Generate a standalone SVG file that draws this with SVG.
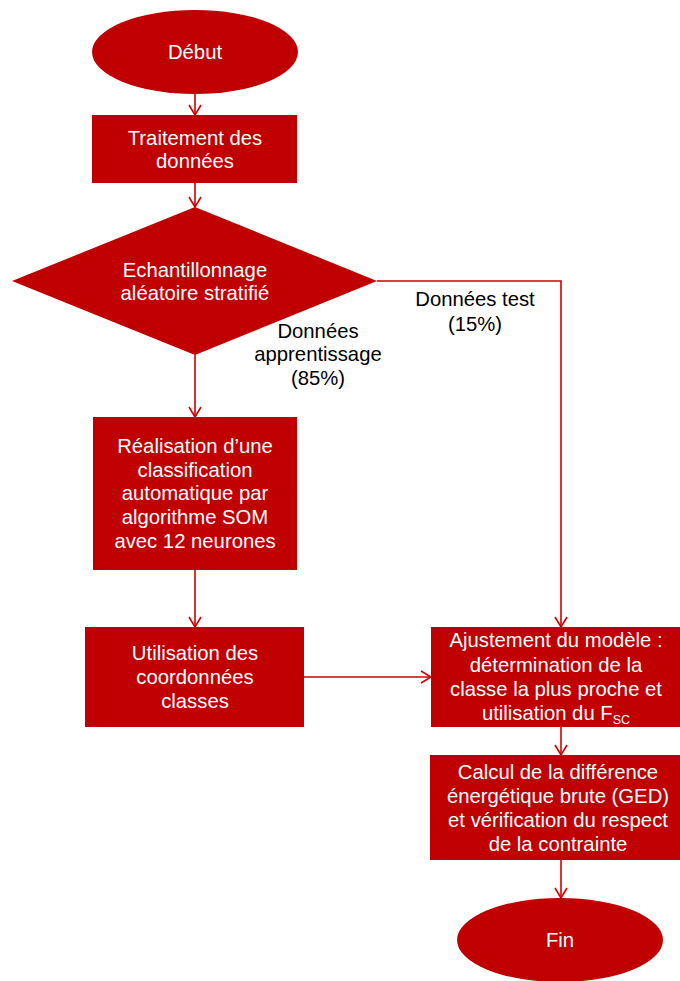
<svg xmlns="http://www.w3.org/2000/svg" width="680" height="981" viewBox="0 0 680 981">
<style>
.node{fill:#C00000;}
.t{font-family:"Liberation Sans",Arial,sans-serif;font-size:20.3px;fill:#FFFFFF;text-anchor:middle;}
.lbl{font-family:"Liberation Sans",Arial,sans-serif;font-size:20.3px;fill:#000000;text-anchor:middle;}
.c{fill:none;stroke:#D00000;stroke-width:1.6;}
</style>
<defs>
<marker id="arr" viewBox="0 0 12 14" refX="11" refY="7" markerWidth="12" markerHeight="14" markerUnits="userSpaceOnUse" orient="auto">
<path d="M1,1 L11,7 L1,13" fill="none" stroke="#D00000" stroke-width="1.6"/>
</marker>
</defs>
<rect width="680" height="981" fill="#FFFFFF"/>
<g id="connectors">
<line class="c" x1="195" y1="94" x2="195" y2="115" marker-end="url(#arr)"/>
<line class="c" x1="195" y1="183" x2="195" y2="207" marker-end="url(#arr)"/>
<line class="c" x1="195" y1="355" x2="195" y2="417" marker-end="url(#arr)"/>
<line class="c" x1="195" y1="570" x2="195" y2="627" marker-end="url(#arr)"/>
<polyline class="c" points="377,281 561,281 561,627" marker-end="url(#arr)"/>
<line class="c" x1="304" y1="677" x2="431" y2="677" marker-end="url(#arr)"/>
<line class="c" x1="561" y1="727" x2="561" y2="755" marker-end="url(#arr)"/>
<line class="c" x1="561" y1="860" x2="561" y2="898" marker-end="url(#arr)"/>
</g>
<g id="debut">
<ellipse class="node" cx="195" cy="52" rx="103" ry="42"/>
<text class="t" x="195" y="59">Début</text>
</g>
<g id="traitement">
<rect class="node" x="92" y="115" width="205" height="68"/>
<text class="t" x="195" y="145">Traitement des</text>
<text class="t" x="195" y="168">données</text>
</g>
<g id="echantillonnage">
<polygon class="node" points="195,207 377,281 195,355 12,281"/>
<text class="t" x="195" y="277">Echantillonnage</text>
<text class="t" x="195" y="300">aléatoire stratifié</text>
</g>
<g id="label-test">
<text class="lbl" x="475" y="306">Données test</text>
<text class="lbl" x="475" y="331">(15%)</text>
</g>
<g id="label-apprentissage">
<text class="lbl" x="318" y="338">Données</text>
<text class="lbl" x="318" y="361">apprentissage</text>
<text class="lbl" x="318" y="385">(85%)</text>
</g>
<g id="realisation">
<rect class="node" x="93" y="417" width="204" height="153"/>
<text class="t" x="195" y="453">Réalisation d’une</text>
<text class="t" x="195" y="477">classification</text>
<text class="t" x="195" y="500">automatique par</text>
<text class="t" x="195" y="524">algorithme SOM</text>
<text class="t" x="195" y="548">avec 12 neurones</text>
</g>
<g id="utilisation">
<rect class="node" x="85" y="627" width="219" height="100"/>
<text class="t" x="195" y="660">Utilisation des</text>
<text class="t" x="195" y="684">coordonnées</text>
<text class="t" x="195" y="708">classes</text>
</g>
<g id="ajustement">
<rect class="node" x="431" y="627" width="249" height="100"/>
<text class="t" x="556" y="647">Ajustement du modèle :</text>
<text class="t" x="556" y="672">détermination de la</text>
<text class="t" x="556" y="696">classe la plus proche et</text>
<text class="t" x="556" y="720">utilisation du F<tspan font-size="12.5" dy="4">SC</tspan></text>
</g>
<g id="calcul">
<rect class="node" x="430" y="755" width="250" height="105"/>
<text class="t" x="558" y="779">Calcul de la différence</text>
<text class="t" x="558" y="803">énergétique brute (GED)</text>
<text class="t" x="558" y="827">et vérification du respect</text>
<text class="t" x="558" y="851">de la contrainte</text>
</g>
<g id="fin">
<ellipse class="node" cx="560" cy="940" rx="103" ry="42"/>
<text class="t" x="560" y="947">Fin</text>
</g>
</svg>
